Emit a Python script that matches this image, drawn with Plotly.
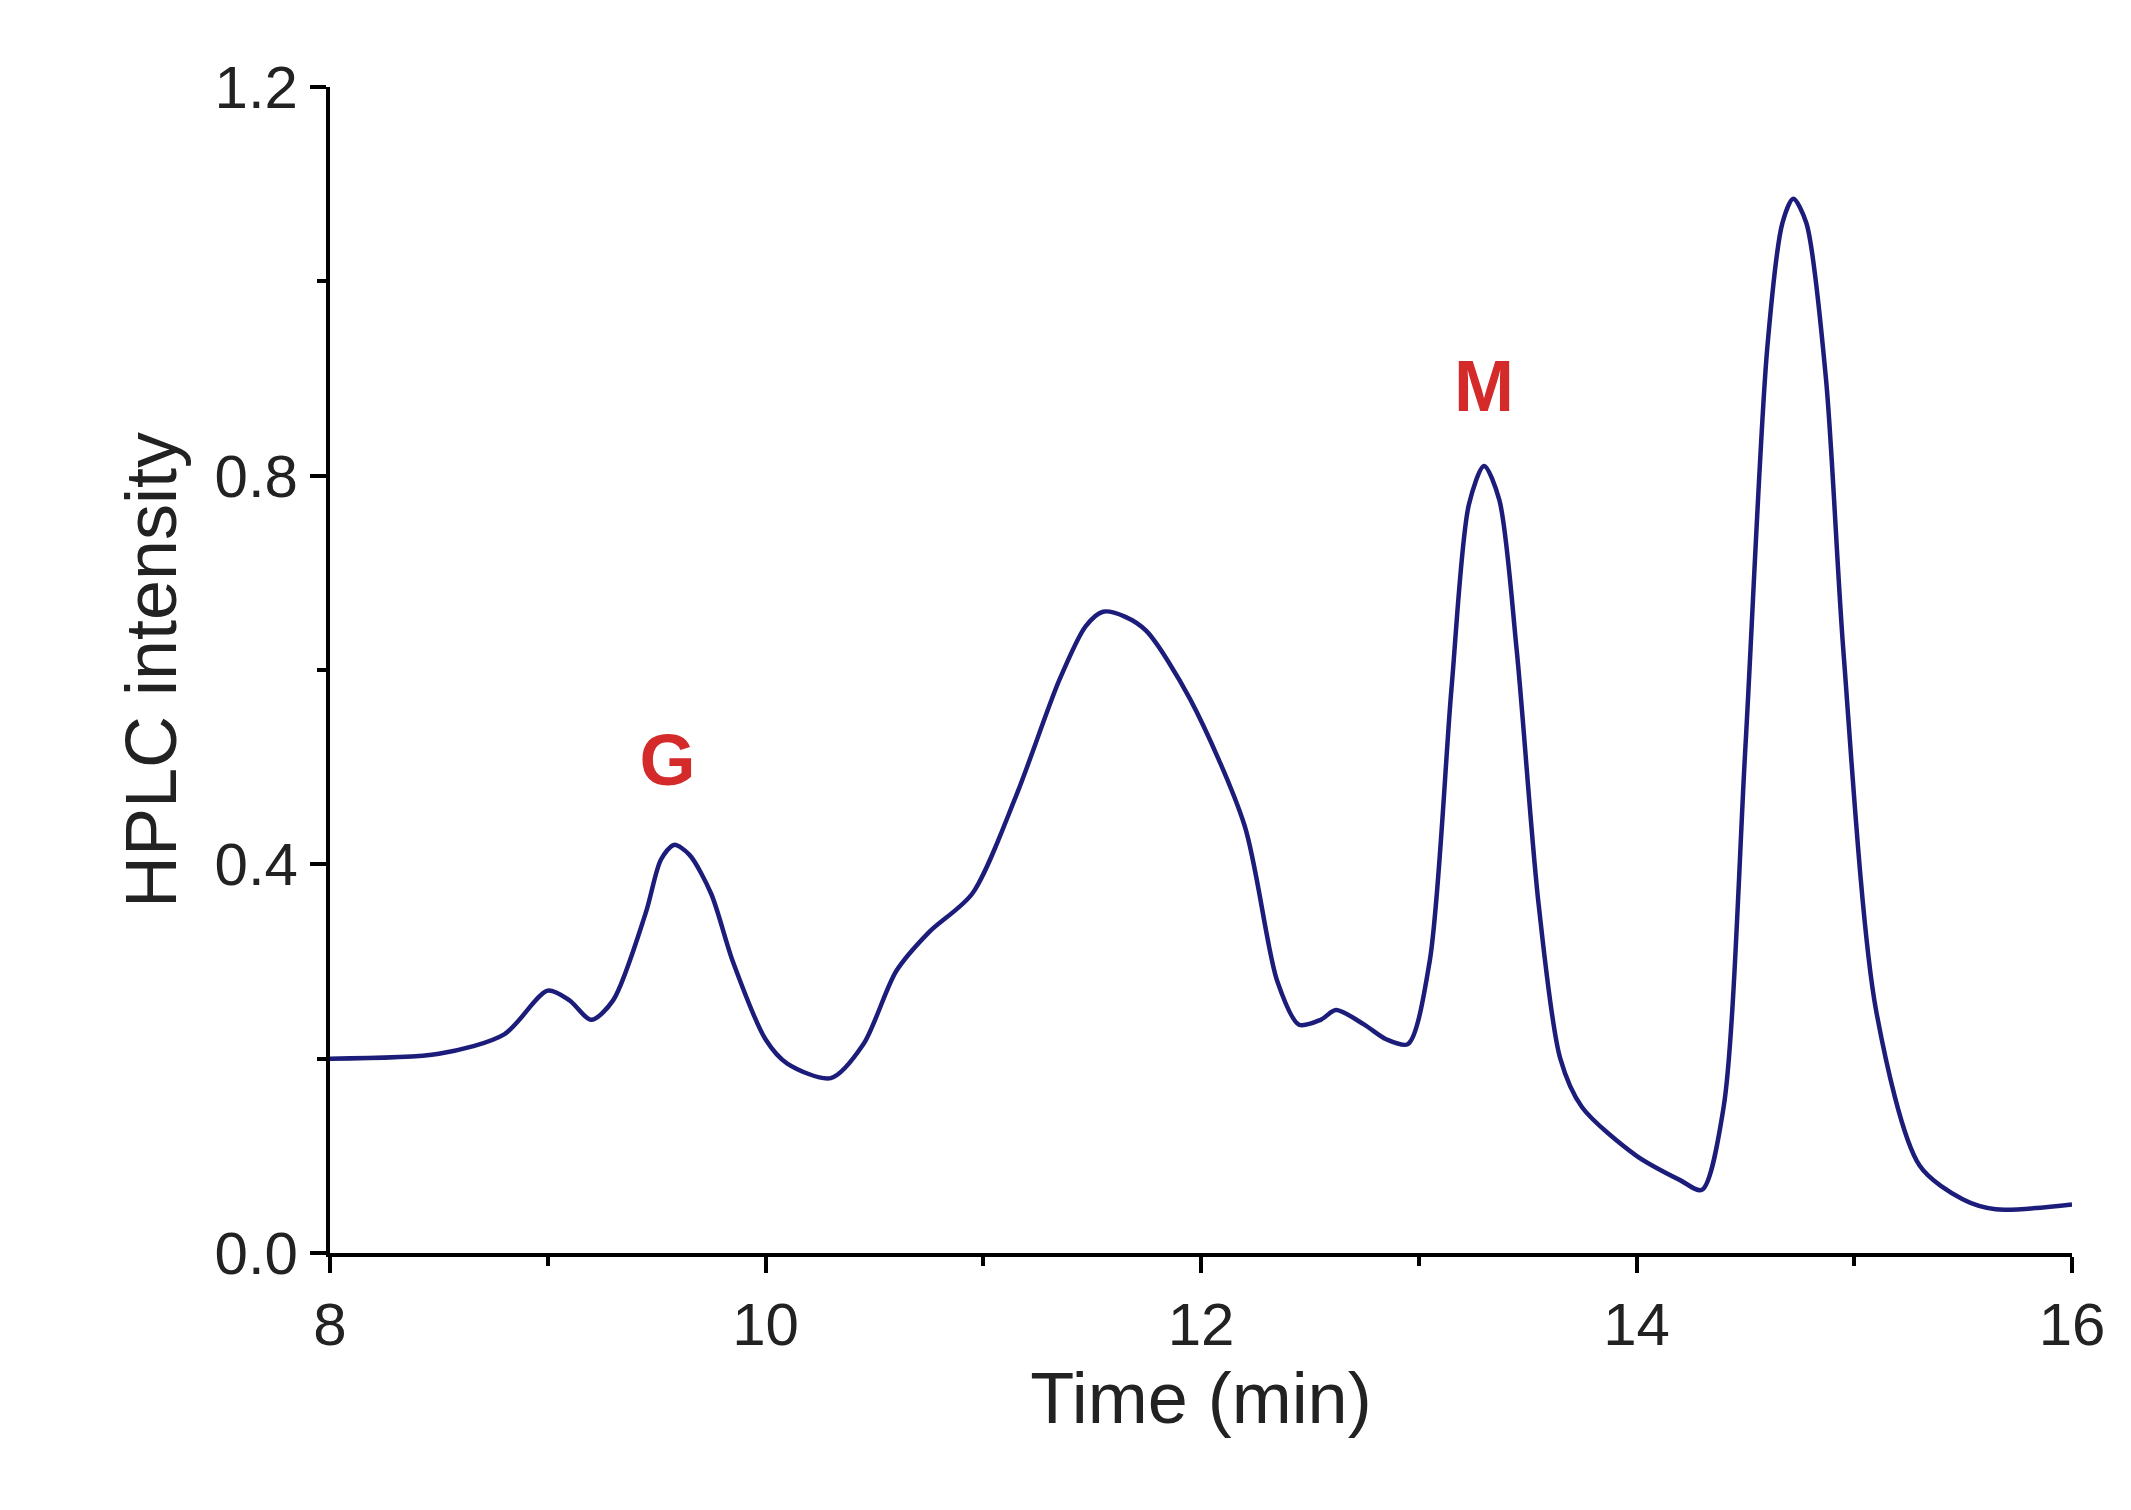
import plotly.graph_objects as go

time_min = [8.0, 8.5, 8.8, 9.0, 9.1, 9.2, 9.3, 9.45, 9.52, 9.58, 9.65, 9.75, 9.85, 10.0,
            10.1, 10.3, 10.45, 10.6, 10.75, 10.95, 11.15, 11.35, 11.47, 11.55, 11.65,
            11.75, 11.95, 12.2, 12.35, 12.45, 12.55, 12.62, 12.75, 12.85, 12.95, 13.05,
            13.15, 13.23, 13.3, 13.37, 13.45, 13.55, 13.65, 13.75, 14.0, 14.2, 14.3,
            14.4, 14.5, 14.6, 14.67, 14.72, 14.78, 14.87, 14.95, 15.1, 15.3, 15.5,
            15.65, 16.0]
intensity = [0.20, 0.205, 0.225, 0.27, 0.26, 0.24, 0.26, 0.35, 0.405, 0.42, 0.41, 0.37,
             0.30, 0.22, 0.195, 0.18, 0.215, 0.29, 0.33, 0.37, 0.47, 0.59, 0.645, 0.66,
             0.655, 0.64, 0.57, 0.44, 0.28, 0.235, 0.24, 0.25, 0.235, 0.22, 0.215, 0.30,
             0.58, 0.77, 0.81, 0.775, 0.62, 0.36, 0.20, 0.15, 0.10, 0.075, 0.065, 0.15,
             0.52, 0.93, 1.06, 1.085, 1.06, 0.90, 0.62, 0.25, 0.09, 0.055, 0.045, 0.05]

peak_labels = ["G", "M"]
peak_x = [9.55, 13.3]
peak_y = [0.50, 0.885]

font = "Liberation Sans, Arial, sans-serif"

fig = go.Figure()
fig.add_trace(go.Scatter(
    x=time_min, y=intensity, mode="lines",
    line=dict(color="#1c1c7a", width=4.5, shape="spline", smoothing=0.8),
    showlegend=False,
))
fig.add_trace(go.Scatter(
    x=peak_x, y=peak_y, mode="text", text=peak_labels,
    textfont=dict(family=font, size=72, color="#d42a2a", weight="bold"),
    showlegend=False,
))

axis_common = dict(
    showgrid=False, zeroline=False, showline=True, linecolor="black", linewidth=4,
    ticks="outside", tickwidth=4, tickcolor="black", ticklen=16,
    tickfont=dict(family=font, size=60, color="#222"),
    minor=dict(ticks="outside", ticklen=9, tickwidth=4, tickcolor="black"),
)
fig.update_xaxes(range=[8, 16], dtick=2, minor_dtick=1,
                 title=dict(text="Time (min)", font=dict(family=font, size=72, color="#222")),
                 **axis_common)
fig.update_yaxes(range=[0, 1.2], dtick=0.4, minor_dtick=0.2, tickformat=".1f",
                 title=dict(text="HPLC intensity", font=dict(family=font, size=72, color="#222")),
                 **axis_common)
fig.update_layout(
    width=2131, height=1510, plot_bgcolor="white", paper_bgcolor="white",
    margin=dict(l=322, r=67, t=79, b=265),
)
fig.write_html("out.html")
